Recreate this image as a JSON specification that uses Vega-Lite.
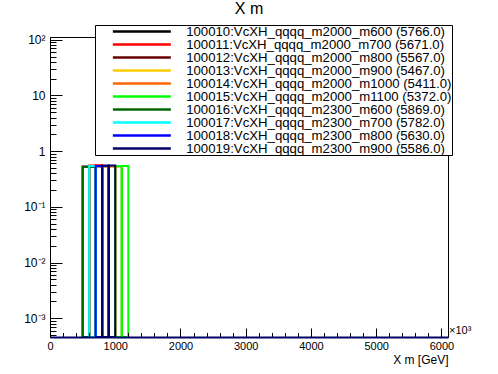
{
  "$schema": "https://vega.github.io/schema/vega-lite/v6.json",
  "width": 398,
  "height": 300,
  "autosize": "none",
  "padding": {"left": 50, "top": 37, "right": 50, "bottom": 37},
  "background": "white",
  "config": {
    "view": {"stroke": "black", "strokeWidth": 1},
    "font": "Liberation Sans",
    "axis": {"labelOverlap": false, "labelFlush": false}
  },
  "title": {"text": "X m", "fontSize": 16, "fontWeight": "normal", "font": "Liberation Sans", "anchor": "middle", "offset": 8, "color": "black"},
  "resolve": {"axis": {"x": "independent", "y": "independent"}},
  "datasets": {
    "bins": [
      {"hist": "100010:VcXH_qqqq_m2000_m600 (5766.0)", "x0": 500, "x1": 600, "v": 0.53},
      {"hist": "100010:VcXH_qqqq_m2000_m600 (5766.0)", "x0": 600, "x1": 700, "v": 0.53},
      {"hist": "100011:VcXH_qqqq_m2000_m700 (5671.0)", "x0": 600, "x1": 700, "v": 0.55},
      {"hist": "100011:VcXH_qqqq_m2000_m700 (5671.0)", "x0": 700, "x1": 800, "v": 0.56},
      {"hist": "100012:VcXH_qqqq_m2000_m800 (5567.0)", "x0": 700, "x1": 800, "v": 0.53},
      {"hist": "100012:VcXH_qqqq_m2000_m800 (5567.0)", "x0": 800, "x1": 900, "v": 0.53},
      {"hist": "100013:VcXH_qqqq_m2000_m900 (5467.0)", "x0": 800, "x1": 900, "v": 0.53},
      {"hist": "100013:VcXH_qqqq_m2000_m900 (5467.0)", "x0": 900, "x1": 1000, "v": 0.53},
      {"hist": "100014:VcXH_qqqq_m2000_m1000 (5411.0)", "x0": 900, "x1": 1000, "v": 0.53},
      {"hist": "100014:VcXH_qqqq_m2000_m1000 (5411.0)", "x0": 1000, "x1": 1100, "v": 0.53},
      {"hist": "100015:VcXH_qqqq_m2000_m1100 (5372.0)", "x0": 1000, "x1": 1100, "v": 0.54},
      {"hist": "100015:VcXH_qqqq_m2000_m1100 (5372.0)", "x0": 1100, "x1": 1200, "v": 0.54},
      {"hist": "100016:VcXH_qqqq_m2300_m600 (5869.0)", "x0": 500, "x1": 600, "v": 0.52},
      {"hist": "100016:VcXH_qqqq_m2300_m600 (5869.0)", "x0": 600, "x1": 700, "v": 0.52},
      {"hist": "100017:VcXH_qqqq_m2300_m700 (5782.0)", "x0": 600, "x1": 700, "v": 0.54},
      {"hist": "100017:VcXH_qqqq_m2300_m700 (5782.0)", "x0": 700, "x1": 800, "v": 0.54},
      {"hist": "100018:VcXH_qqqq_m2300_m800 (5630.0)", "x0": 700, "x1": 800, "v": 0.54},
      {"hist": "100018:VcXH_qqqq_m2300_m800 (5630.0)", "x0": 800, "x1": 900, "v": 0.54},
      {"hist": "100019:VcXH_qqqq_m2300_m900 (5586.0)", "x0": 800, "x1": 900, "v": 0.55},
      {"hist": "100019:VcXH_qqqq_m2300_m900 (5586.0)", "x0": 900, "x1": 1000, "v": 0.55}
    ]
  },
  "layer": [
    {
      "data": {"name": "bins"},
      "mark": {"type": "rect", "filled": false, "strokeWidth": 2, "clip": true},
      "encoding": {
        "x": {
          "field": "x0", "type": "quantitative",
          "scale": {"domain": [0, 6100], "nice": false, "zero": false},
          "axis": {
            "values": [0,200,400,600,800,1000,1200,1400,1600,1800,2000,2200,2400,2600,2800,3000,3200,3400,3600,3800,4000,4200,4400,4600,4800,5000,5200,5400,5600,5800,6000],
            "labelExpr": "datum.value % 1000 == 0 ? '' + datum.value : ''",
            "labelOverlap": false,
            "labelFlush": false,
            "ticks": true,
            "tickSize": {"condition": {"test": "datum.value % 1000 == 0", "value": -9}, "value": -4.5},
            "tickColor": "black",
            "tickWidth": 1,
            "domainColor": "#000066",
            "domainWidth": 2,
            "labelFontSize": 11,
            "labelColor": "black",
            "labelPadding": 12,
            "labelFont": "Liberation Sans",
            "grid": false,
            "title": "X m [GeV]",
            "titleFont": "Liberation Sans",
            "titleFontSize": 12,
            "titleFontWeight": "normal",
            "titleColor": "black",
            "titleAnchor": "end",
            "titleAlign": "right",
            "titlePadding": -1,
            "zindex": 1
          }
        },
        "x2": {"field": "x1"},
        "y": {
          "field": "v", "type": "quantitative",
          "scale": {"type": "log", "domain": [0.00046, 112], "nice": false, "clamp": true},
          "axis": {
            "values": [0.0005,0.0006,0.0007,0.0008,0.0009,0.001,0.002,0.003,0.004,0.005,0.006,0.007,0.008,0.009,0.01,0.02,0.03,0.04,0.05,0.06,0.07,0.08,0.09,0.1,0.2,0.3,0.4,0.5,0.6,0.7,0.8,0.9,1,2,3,4,5,6,7,8,9,10,20,30,40,50,60,70,80,90,100],
            "labelExpr": "datum.value == 0.001 ? '10⁻³' : datum.value == 0.01 ? '10⁻²' : datum.value == 0.1 ? '10⁻¹' : datum.value == 1 ? '1' : datum.value == 10 ? '10' : datum.value == 100 ? '10²' : ''",
            "labelOverlap": false,
            "ticks": true,
            "tickSize": {"condition": {"test": "datum.value == 0.001 || datum.value == 0.01 || datum.value == 0.1 || datum.value == 1 || datum.value == 10 || datum.value == 100", "value": -12}, "value": -6},
            "tickColor": "black",
            "tickWidth": 1,
            "domainColor": "black",
            "labelFontSize": 12,
            "labelColor": "black",
            "labelPadding": 17,
            "labelFont": "Liberation Sans",
            "grid": false,
            "title": null,
            "zindex": 1
          }
        },
        "y2": {"datum": 0},
        "color": {
          "field": "hist", "type": "nominal",
          "scale": {
            "domain": [
              "100010:VcXH_qqqq_m2000_m600 (5766.0)",
              "100011:VcXH_qqqq_m2000_m700 (5671.0)",
              "100012:VcXH_qqqq_m2000_m800 (5567.0)",
              "100013:VcXH_qqqq_m2000_m900 (5467.0)",
              "100014:VcXH_qqqq_m2000_m1000 (5411.0)",
              "100015:VcXH_qqqq_m2000_m1100 (5372.0)",
              "100016:VcXH_qqqq_m2300_m600 (5869.0)",
              "100017:VcXH_qqqq_m2300_m700 (5782.0)",
              "100018:VcXH_qqqq_m2300_m800 (5630.0)",
              "100019:VcXH_qqqq_m2300_m900 (5586.0)"
            ],
            "range": ["#000000", "#ff0000", "#660000", "#ffcc00", "#ff6600", "#00ff00", "#006600", "#00ffff", "#0000ff", "#000066"]
          },
          "legend": {
            "orient": "none",
            "legendX": 45,
            "legendY": -12,
            "title": null,
            "fillColor": "white",
            "strokeColor": "black",
            "padding": 0,
            "cornerRadius": 0,
            "symbolType": "M-6.44,0H6.44",
            "symbolSize": 81,
            "symbolStrokeWidth": 2.5,
            "symbolOffset": 40.25,
            "labelOffset": 37.75,
            "labelFontSize": 13.2,
            "labelFont": "Liberation Sans",
            "labelColor": "black",
            "labelLimit": 400,
            "rowPadding": -1.5
          }
        }
      }
    },
    {
      "data": {"values": [{"t": "×10³"}]},
      "mark": {"type": "text", "align": "left", "baseline": "bottom", "fontSize": 11, "font": "Liberation Sans", "color": "black", "clip": false, "dx": 1, "dy": -1},
      "encoding": {
        "x": {"datum": 6100, "axis": null},
        "y": {"datum": 0.00046, "axis": null},
        "text": {"field": "t"}
      }
    }
  ]
}
